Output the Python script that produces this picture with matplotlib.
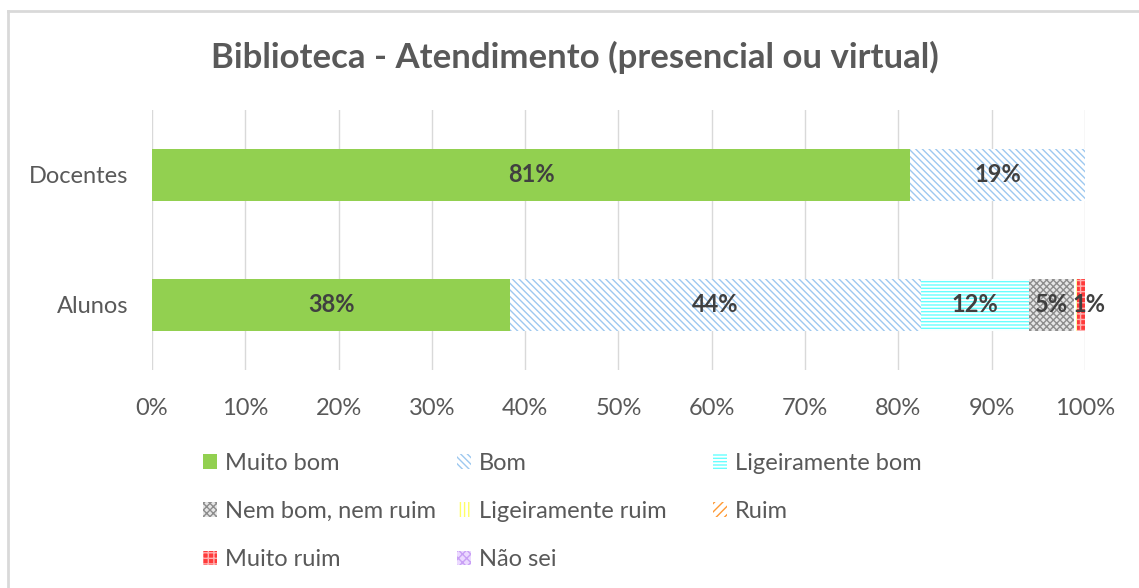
import matplotlib.pyplot as plt
import numpy as np
from matplotlib.patches import Patch
from matplotlib.lines import Line2D

plt.rcParams['font.family'] = ['Lato', 'DejaVu Sans']
plt.rcParams['hatch.linewidth'] = 1.0

# Data (percent)
groups = ['Alunos', 'Docentes']
categories = ['Muito bom', 'Bom', 'Ligeiramente bom', 'Nem bom, nem ruim',
              'Ligeiramente ruim', 'Ruim', 'Muito ruim', 'Não sei']
alunos = [38.4, 44.0, 11.6, 4.8, 0.3, 0.0, 0.9, 0.0]
docentes = [81.3, 18.7, 0.0, 0.0, 0.0, 0.0, 0.0, 0.0]

# fill, hatch colour, hatch pattern
styles = [
    ('#92D050', '#92D050', None),
    ('white', '#9DC8F0', '\\\\\\\\\\'),
    ('white', '#66FFFF', '-----'),
    ('#E6E6E6', '#8C8C8C', 'xxxxx'),
    ('white', '#FFFF66', '||||'),
    ('white', '#FF9933', '////'),
    ('#FF3B3B', '#FFB0B0', '+++'),
    ('#EBD9FF', '#C9A0F5', 'xxxx'),
]

fig = plt.figure(figsize=(11.39, 5.88), dpi=100)
ax = fig.add_axes([0.1335, 0.371, 0.819, 0.442])

vals = np.array([alunos, docentes])
left = np.zeros(2)
y = np.arange(len(groups))
for i, cat in enumerate(categories):
    fc, hc, h = styles[i]
    ax.barh(y, vals[:, i], left=left, height=0.4, color=fc, edgecolor=hc,
            hatch=h, linewidth=0, zorder=2)
    for j in range(2):
        v = vals[j, i]
        if v >= 0.5:
            # very thin segments: label nudged right like the original
            dx = 6 if v < 2 else 0
            ax.annotate(f'{v:.0f}%', (left[j] + v / 2, y[j]), xytext=(dx, 0),
                        textcoords='offset points', ha='center', va='center',
                        fontsize=17, fontweight='bold', color='#404040', zorder=3)
    left += vals[:, i]

ax.set_xlim(0, 100)
ax.set_ylim(-0.5, 1.5)
ax.set_xticks(np.arange(0, 101, 10))
ax.set_xticklabels([f'{t}%' for t in range(0, 101, 10)])
ax.set_yticks(y)
ax.set_yticklabels(groups)
ax.tick_params(length=0, labelsize=17, colors='#595959')
ax.tick_params(axis='y', pad=17)
ax.tick_params(axis='x', pad=20)
ax.grid(True, axis='x', color='#D9D9D9', linewidth=1, zorder=0)
for s in ax.spines.values():
    s.set_visible(False)

fig.text(0.505, 0.903, 'Biblioteca - Atendimento (presencial ou virtual)',
         ha='center', va='center', fontsize=25, fontweight='bold', color='#595959')

# legend: three equal-width columns, filled row by row
columns = [[0, 3, 6], [1, 4, 7], [2, 5]]
col_x = [203, 457, 713]
for idx, x0 in zip(columns, col_x):
    handles = [Patch(facecolor=styles[i][0], edgecolor=styles[i][1], hatch=styles[i][2],
                     linewidth=0) for i in idx]
    labels = [categories[i] for i in idx]
    fig.legend(handles, labels, loc='upper left', bbox_to_anchor=(x0 / 1139, 0.2296),
               frameon=False, fontsize=17, labelcolor='#595959', handlelength=0.59,
               handleheight=0.59, handletextpad=0.34, labelspacing=1.15,
               borderpad=0, borderaxespad=0)

# chart frame (top and left edges visible)
fig.add_artist(Line2D([8 / 1139, 1], [1 - 11 / 588] * 2, transform=fig.transFigure,
                      color='#D9D9D9', linewidth=2))
fig.add_artist(Line2D([8 / 1139] * 2, [0, 1 - 11 / 588], transform=fig.transFigure,
                      color='#D9D9D9', linewidth=2))

fig.savefig('out.png', dpi=100)
